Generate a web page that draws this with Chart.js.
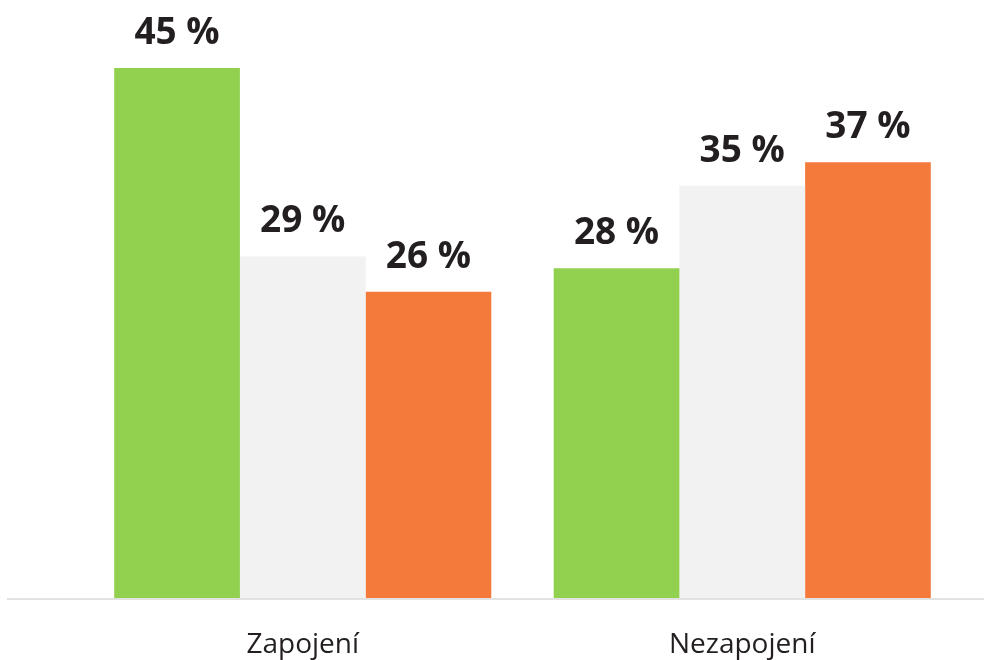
<!DOCTYPE html>
<html>
<head>
<meta charset="utf-8">
<script src="https://cdn.jsdelivr.net/npm/chart.js@4/dist/chart.umd.min.js"></script>
<style>
  html, body { margin: 0; padding: 0; background: #fff; }
  #wrap { width: 984px; height: 660px; }
</style>
</head>
<body>
<div id="wrap"><canvas id="myBarChart" width="984" height="660"></canvas></div>
<script>
var categories = ['Zapojení', 'Nezapojení'];
var series1 = [45, 28];
var series2 = [29, 35];
var series3 = [26, 37];
var colors = ['#92d050', '#f2f2f2', '#f47a3c'];

// bottom axis line, wider than the plot area like the original
const axisLine = {
    id: 'axisLine',
    beforeDatasetsDraw(chart) {
        const ctx = chart.ctx;
        const y = chart.chartArea.bottom + 1;
        ctx.save();
        ctx.strokeStyle = '#d9d9d9';
        ctx.lineWidth = 1.5;
        ctx.beginPath();
        ctx.moveTo(7, y);
        ctx.lineTo(chart.width, y);
        ctx.stroke();
        ctx.restore();
    }
};

// "45 %" labels above bars
const valueLabels = {
    id: 'valueLabels',
    afterDatasetsDraw(chart) {
        const ctx = chart.ctx;
        ctx.save();
        ctx.font = 'bold 37px "Open Sans"';
        ctx.fillStyle = '#231f20';
        ctx.textAlign = 'center';
        ctx.textBaseline = 'alphabetic';
        chart.data.datasets.forEach(function (ds, i) {
            chart.getDatasetMeta(i).data.forEach(function (bar, j) {
                ctx.fillText(ds.data[j] + ' %', bar.x, bar.y - 24);
            });
        });
        ctx.restore();
    }
};

var data = {
    labels: categories,
    datasets: [
        { label: 'A', data: series1, backgroundColor: colors[0] },
        { label: 'B', data: series2, backgroundColor: colors[1] },
        { label: 'C', data: series3, backgroundColor: colors[2] }
    ]
};

const config_bar = {
    type: 'bar',
    data: data,
    options: {
        responsive: false,
        animation: false,
        layout: { padding: { left: 83, right: 22, top: 9, bottom: 0 } },
        datasets: { bar: { categoryPercentage: 0.858, barPercentage: 1 } },
        plugins: {
            legend: { display: false },
            tooltip: { enabled: false }
        },
        scales: {
            x: {
                grid: { display: false },
                border: { display: false },
                afterFit: function (scale) { scale.height = 62; },
                ticks: {
                    color: '#231f20',
                    padding: 22,
                    font: { family: 'Open Sans', size: 28 }
                }
            },
            y: {
                display: false,
                min: 0,
                max: 50
            }
        }
    },
    plugins: [axisLine, valueLabels]
};

var myChart = new Chart(document.getElementById('myBarChart'), config_bar);
</script>
</body>
</html>
